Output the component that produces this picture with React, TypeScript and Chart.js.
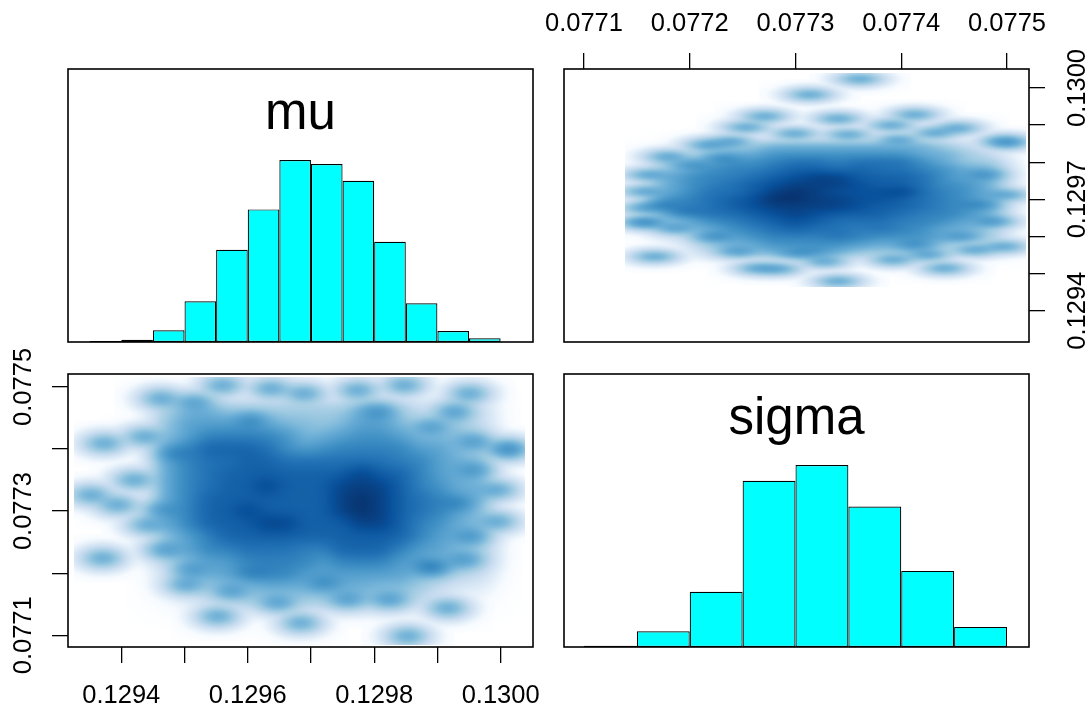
import React, { useEffect, useRef } from "react";
import { Chart, registerables } from "chart.js";

Chart.register(...registerables);

const W = 1091;
const H = 709;
const FONT = '"Liberation Sans", Arial, Helvetica, sans-serif';

// ---------------- data ----------------
const muRange = [0.1293157, 0.1300512];
const sigmaRange = [0.0770811, 0.0775208];

const muTicks = [0.1294, 0.1295, 0.1296, 0.1297, 0.1298, 0.1299, 0.13];
const sigmaTicks = [0.0771, 0.0772, 0.0773, 0.0774, 0.0775];
const muBottomLabels = [0.1294, 0.1296, 0.1298, 0.13];
const muRightLabels = [0.1294, 0.1297, 0.13];
const sigmaTopLabels = [0.0771, 0.0772, 0.0773, 0.0774, 0.0775];
const sigmaLeftLabels = [0.0771, 0.0773, 0.0775];

const muBinCenters = [
  0.129375, 0.129425, 0.129475, 0.129525, 0.129575, 0.129625, 0.129675,
  0.129725, 0.129775, 0.129825, 0.129875, 0.129925, 0.129975,
];
const muCounts = [3, 7, 35, 122, 276, 397, 545, 533, 483, 300, 116, 33, 11];

const sigmaBinCenters = [
  0.077125, 0.077175, 0.077225, 0.077275, 0.077325, 0.077375, 0.077425, 0.077475,
];
const sigmaCounts = [4, 47, 165, 496, 543, 419, 227, 60];

// top-right panel (x = sigma, y = mu): isolated samples
const trSigma = [
  0.0773607, 0.0773134, 0.0772708, 0.0773402, 0.0774127, 0.0772535, 0.0773906,
  0.0774537, 0.0774978, 0.0772992, 0.0773496, 0.0772393, 0.0772173, 0.0771794,
  0.0771605, 0.0771567, 0.0771567, 0.0771574, 0.0771857, 0.0771668, 0.0772236,
  0.0772645, 0.0772834, 0.0773402, 0.0773922, 0.0774411, 0.0774568, 0.0774694,
  0.0774978, 0.0774883, 0.0775, 0.0775, 0.0774316, 0.0773276, 0.0774253,
  0.0771731, 0.0771567, 0.0772015, 0.0772299, 0.0771952, 0.0772456, 0.0773024,
  0.0774127, 0.0774757, 0.0774789, 0.0773969,
];
const trMu = [
  0.1300243, 0.129982, 0.1299236, 0.1299173, 0.1299281, 0.1298939, 0.1298993,
  0.1298921, 0.1298579, 0.1298768, 0.1298741, 0.1298561, 0.1298471, 0.1298156,
  0.1297662, 0.1297212, 0.1296403, 0.1296358, 0.1296223, 0.1295459, 0.1295998,
  0.1295144, 0.1295126, 0.1294795, 0.1295369, 0.1295144, 0.1295998, 0.1295638,
  0.1295728, 0.1296403, 0.1298516, 0.1297122, 0.1298786, 0.1295324, 0.1295504,
  0.1296853, 0.1296763, 0.1297932, 0.1298112, 0.1296673, 0.1295594, 0.1295549,
  0.1295773, 0.1296853, 0.1297662, 0.1298606,
];
// top-right core density levels (0-9) on a grid
const trGridSigma = [
  0.07718, 0.0772, 0.07722, 0.07724, 0.07726, 0.07728, 0.0773, 0.07732,
  0.07734, 0.07736, 0.07738, 0.0774, 0.07742, 0.07744, 0.07746, 0.07748,
];
const trGridMu = [
  0.12984, 0.12982, 0.1298, 0.12978, 0.12976, 0.12974, 0.12972, 0.1297,
  0.12968, 0.12966, 0.12964, 0.12962, 0.1296, 0.12958, 0.12956,
];
const trLevels = [
  [0, 2, 4, 4, 4, 5, 5, 5, 5, 5, 5, 5, 5, 4, 3, 2],
  [2, 3, 4, 5, 5, 6, 6, 6, 6, 6, 6, 6, 5, 5, 4, 3],
  [4, 4, 5, 6, 6, 6.5, 7, 7, 6.5, 7, 7, 7, 6, 5, 4, 4],
  [4, 5, 6, 6.5, 6.5, 7, 7.5, 7.5, 7, 7.5, 7, 7, 6.5, 6, 5, 5],
  [5, 6, 6.5, 6.5, 7, 7.5, 8, 8.5, 8.5, 7.5, 7.5, 7.5, 7, 6, 5, 5],
  [5, 6, 6.5, 7, 7.5, 8, 8.5, 8.5, 8.5, 8, 7.5, 7.5, 7, 6, 6, 5],
  [5, 6, 7, 7, 7.5, 8.5, 9, 8.5, 8, 8, 8, 8.5, 7, 6.5, 6, 5],
  [6, 6.5, 7, 7.5, 8, 9, 9, 8.5, 8.5, 8, 8, 7.5, 7, 6.5, 6, 5],
  [6, 6.5, 7, 7.5, 8, 8.5, 8.5, 8.5, 8.5, 8, 7.5, 7.5, 7, 6.5, 6, 5],
  [5, 6, 7, 7, 7.5, 8, 8.5, 8, 7.5, 7.5, 7.5, 7, 6.5, 6.5, 6, 5],
  [4, 5, 6, 6.5, 7, 7.5, 8, 7.5, 7, 7, 7, 6.5, 6.5, 6, 5, 5],
  [3, 4, 5, 6, 6.5, 7, 7.5, 7, 7, 6.5, 7, 6.5, 6, 5, 5, 4],
  [2, 3, 5, 5, 6, 6.5, 6.5, 6.5, 7, 6.5, 6, 6, 6, 5, 4, 4],
  [1, 2, 4, 5, 5, 6, 6, 6, 6, 5.5, 5, 5, 5, 4, 3, 3],
  [0, 1, 3, 4, 4, 5, 5, 6, 5, 4, 4, 4, 4, 3, 2, 2],
];

// bottom-left panel (x = mu, y = sigma): isolated samples
const blMu = [
  0.1293731, 0.129352, 0.1293942, 0.1293705, 0.1294417, 0.1295023, 0.1295735,
  0.1295524, 0.1296842, 0.1298529, 0.1299162, 0.1298898, 0.1299425, 0.1299953,
  0.1299953, 0.130012, 0.130012, 0.1299584, 0.1299505, 0.1299267, 0.1298476,
  0.1298055, 0.1297738, 0.1296895, 0.1296367, 0.1295603, 0.1295155, 0.1294627,
  0.1298239, 0.1299531, 0.1294206, 0.1294627, 0.129468, 0.1296473, 0.129758,
  0.1298925, 0.1294838, 0.1294364, 0.1296051, 0.1295102, 0.1296051, 0.1297211,
  0.129932, 0.1299584, 0.1298898,
];
const blSigma = [
  0.077409, 0.077326, 0.07731, 0.0772242, 0.0772778, 0.0771814, 0.0771707,
  0.0771305, 0.0771198, 0.0770985, 0.0771439, 0.0772108, 0.0772216, 0.0772831,
  0.077334, 0.0773983, 0.0774009, 0.0774117, 0.0774893, 0.0774599, 0.0775027,
  0.0774599, 0.0774947, 0.0774893, 0.0774973, 0.0775025, 0.0774759, 0.0774813,
  0.0771573, 0.077259, 0.0773501, 0.0773019, 0.0772376, 0.0771519, 0.0771573,
  0.0772082, 0.0773929, 0.0774197, 0.0774465, 0.0772055, 0.0772001, 0.0771841,
  0.0773126, 0.0773661, 0.0774357,
];
const blGridMu = [
  0.12948, 0.12951, 0.12954, 0.12957, 0.1296, 0.12963, 0.12966, 0.12969, 0.12972,
  0.12975, 0.12978, 0.12981, 0.12984, 0.12987, 0.1299, 0.12993, 0.12996,
];
const blGridSigma = [
  0.07746, 0.07744, 0.07742, 0.0774, 0.07738, 0.07736, 0.07734, 0.07732,
  0.0773, 0.07728, 0.07726, 0.07724, 0.07722, 0.0772, 0.07718, 0.07716,
];
const blLevels = [
  [4, 5, 5, 4, 4, 4, 4, 4, 4, 4, 5, 5, 4, 3, 3, 4, 3],
  [4.5, 5.5, 5.5, 5.5, 5.5, 5, 4.5, 4.5, 4, 4.5, 5.5, 5.5, 4.5, 3.5, 3.5, 4, 3],
  [4.5, 5.5, 6.5, 6.5, 6.5, 6.5, 6, 4.5, 5, 5.5, 6, 6, 5.5, 4.5, 4.5, 4.5, 4],
  [5.5, 6.5, 7.5, 7.5, 7.5, 7, 6, 5.5, 6, 6.5, 6.5, 6.5, 6.5, 5.5, 5.5, 4.5, 4],
  [5.5, 6.5, 7, 7, 7.5, 7.5, 7, 7, 7, 7, 7, 7, 6.5, 6.5, 5.5, 5, 4.5],
  [5.5, 6.5, 7, 7.5, 7.5, 7.5, 7.5, 7.5, 7.5, 7.5, 8.5, 7.5, 7.5, 6.5, 5.5, 5, 4.5],
  [5.5, 6.5, 7, 7.5, 7.5, 8.5, 7.5, 7.5, 7.5, 8.5, 8.5, 8.5, 7.5, 6.5, 6, 5, 5],
  [5.5, 6.5, 7.5, 7.5, 7.5, 7.5, 7.5, 7.5, 7.5, 8.5, 9, 8.5, 7.5, 7, 6.5, 5.5, 5],
  [5.5, 6.5, 7.5, 7.5, 8.5, 7.5, 7.5, 7.5, 7.5, 8.5, 9, 8.5, 7.5, 7, 6.5, 5.5, 4.5],
  [5.5, 6.5, 7.5, 7.5, 7.5, 8.5, 8.5, 7.5, 7.5, 7.5, 8.5, 8.5, 7.5, 6.5, 6, 5, 4.5],
  [4.5, 5.5, 6.5, 7.5, 7.5, 7.5, 7.5, 7.5, 7.5, 7.5, 7.5, 7.5, 7.5, 6.5, 5.5, 5, 4.5],
  [4.5, 5.5, 6.5, 6.5, 7, 7, 7, 6.5, 6.5, 7.5, 7.5, 7.5, 6.5, 5.5, 5.5, 4.5, 4],
  [3.5, 4.5, 5.5, 5.5, 6.5, 6.5, 6.5, 6.5, 5.5, 6.5, 6.5, 6.5, 5.5, 5.5, 4.5, 4.5, 4],
  [2.5, 4, 5, 5.5, 5.5, 6.5, 6.5, 5.5, 5.5, 5.5, 5.5, 5.5, 5.5, 4.5, 4, 3.5, 3],
  [2, 3, 4, 4, 4.5, 5, 5, 5, 5, 5, 5, 4.5, 4.5, 4, 3, 2, 2],
  [1, 2, 3, 3, 4, 4, 4, 4, 4, 4, 4, 4, 4, 3, 2, 1, 1],
];

// ---------------- colour ramp (white + blues9) ----------------
const BLUES = [
  "#FFFFFF", "#F7FBFF", "#DEEBF7", "#C6DBEF", "#9ECAE1",
  "#6BAED6", "#4292C6", "#2171B5", "#08519C", "#08306B",
];
const RAMP = BLUES.map((h) => [
  parseInt(h.slice(1, 3), 16),
  parseInt(h.slice(3, 5), 16),
  parseInt(h.slice(5, 7), 16),
]);
function rampColor(v: number) {
  const t = Math.max(0, Math.min(1, v)) * (RAMP.length - 1);
  const i = Math.min(RAMP.length - 2, Math.floor(t));
  const f = t - i;
  const a = RAMP[i];
  const b = RAMP[i + 1];
  return [a[0] + (b[0] - a[0]) * f, a[1] + (b[1] - a[1]) * f, a[2] + (b[2] - a[2]) * f];
}

// ---------------- plugins ----------------
type DensityCfg = {
  gridX: number[];
  gridY: number[];
  levels: number[][];
  pointSd: [number, number];
  dref: number;
};

function makeDensityPlugin(cfg: DensityCfg) {
  return {
    id: "density",
    beforeDatasetsDraw(chart: any) {
      const ctx = chart.ctx;
      const ca = chart.chartArea;
      const xs = chart.scales.x;
      const ys = chart.scales.y;
      const L = Math.round(ca.left);
      const T = Math.round(ca.top);
      const w = Math.round(ca.right) - L;
      const h = Math.round(ca.bottom) - T;
      const D = new Float32Array(w * h);
      const add = (px: number, py: number, amp: number, sx: number, sy: number) => {
        const cx = px - L;
        const cy = py - T;
        const i0 = Math.max(0, Math.floor(cx - 4 * sx));
        const i1 = Math.min(w - 1, Math.ceil(cx + 4 * sx));
        const j0 = Math.max(0, Math.floor(cy - 4 * sy));
        const j1 = Math.min(h - 1, Math.ceil(cy + 4 * sy));
        for (let j = j0; j <= j1; j++) {
          const dy = (j + 0.5 - cy) / sy;
          const ey = amp * Math.exp(-0.5 * dy * dy);
          for (let i = i0; i <= i1; i++) {
            const dx = (i + 0.5 - cx) / sx;
            D[j * w + i] += ey * Math.exp(-0.5 * dx * dx);
          }
        }
      };
      const [psx, psy] = cfg.pointSd;
      let minX = Infinity, maxX = -Infinity, minY = Infinity, maxY = -Infinity;
      const pts = chart.data.datasets[0].data as { x: number; y: number }[];
      for (const p of pts) {
        const px = xs.getPixelForValue(p.x);
        const py = ys.getPixelForValue(p.y);
        add(px, py, 1, psx, psy);
        minX = Math.min(minX, px); maxX = Math.max(maxX, px);
        minY = Math.min(minY, py); maxY = Math.max(maxY, py);
      }
      const gx = cfg.gridX.map((v) => xs.getPixelForValue(v));
      const gy = cfg.gridY.map((v) => ys.getPixelForValue(v));
      const csx = 0.6 * Math.abs(gx[1] - gx[0]);
      const csy = 0.6 * Math.abs(gy[1] - gy[0]);
      const gain = 2 * Math.PI * 0.36;
      for (let r = 0; r < gy.length; r++) {
        for (let c = 0; c < gx.length; c++) {
          const lev = cfg.levels[r][c];
          if (!lev) continue;
          const amp = (cfg.dref * Math.pow(lev / 9, 4)) / gain;
          add(gx[c], gy[r], amp, csx, csy);
        }
      }
      const bx0 = minX - 1.5 * psx - L, bx1 = maxX + 1.5 * psx - L;
      const by0 = minY - 1.5 * psy - T, by1 = maxY + 1.5 * psy - T;
      const img = ctx.createImageData(w, h);
      const data = img.data;
      for (let j = 0; j < h; j++) {
        const yy = j + 0.5;
        if (yy < by0 || yy > by1) continue;
        for (let i = 0; i < w; i++) {
          const xx = i + 0.5;
          if (xx < bx0 || xx > bx1) continue;
          const v = Math.pow(D[j * w + i] / cfg.dref, 0.25);
          const col = rampColor(v);
          const k = (j * w + i) * 4;
          data[k] = col[0];
          data[k + 1] = col[1];
          data[k + 2] = col[2];
          data[k + 3] = 255;
        }
      }
      const off = document.createElement("canvas");
      off.width = w;
      off.height = h;
      (off.getContext("2d") as CanvasRenderingContext2D).putImageData(img, 0, 0);
      ctx.drawImage(off, L, T);
    },
  };
}

type LabelSpec = { axis: string; side: string; values: number[]; at: number };
function makeTextPlugin(labels: LabelSpec[], title?: string) {
  return {
    id: "axisText",
    afterDraw(chart: any) {
      const ctx = chart.ctx as CanvasRenderingContext2D;
      const ca = chart.chartArea;
      ctx.save();
      ctx.strokeStyle = "#000";
      ctx.lineWidth = 1.6;
      ctx.strokeRect(ca.left, ca.top, ca.right - ca.left, ca.bottom - ca.top);
      ctx.fillStyle = "#000";
      ctx.font = `25.5px ${FONT}`;
      ctx.textBaseline = "alphabetic";
      for (const spec of labels) {
        const scale = chart.scales[spec.axis];
        for (const v of spec.values) {
          const p = scale.getPixelForValue(v);
          const t = v.toFixed(4);
          if (spec.side === "top" || spec.side === "bottom") {
            ctx.textAlign = "center";
            ctx.fillText(t, p, spec.at);
          } else {
            ctx.save();
            ctx.translate(spec.at, p);
            ctx.rotate(-Math.PI / 2);
            ctx.textAlign = "center";
            ctx.fillText(t, 0, 0);
            ctx.restore();
          }
        }
      }
      if (title) {
        ctx.font = `51px ${FONT}`;
        ctx.textAlign = "center";
        ctx.fillText(title, (ca.left + ca.right) / 2, ca.top + 60);
      }
      ctx.restore();
    },
  };
}

// ---------------- scale helpers ----------------
const hiddenScale = (min: number, max: number) => ({
  type: "linear",
  display: false,
  min,
  max,
  offset: false,
  grid: { offset: false },
});
const shownScale = (min: number, max: number, position: string, ticks: number[], horizontal: boolean) => ({
  type: "linear",
  display: true,
  position,
  min,
  max,
  bounds: "data",
  offset: false,
  grid: {
    display: true,
    offset: false,
    drawOnChartArea: false,
    drawTicks: true,
    tickLength: 16,
    tickWidth: 1.3,
    tickColor: "#000",
    color: "#000",
    lineWidth: 1.3,
  },
  border: { display: false },
  ticks: { display: false },
  afterBuildTicks: (s: any) => {
    s.ticks = ticks.map((v) => ({ value: v }));
  },
  afterFit: (s: any) => {
    if (horizontal) s.height = 0;
    else s.width = 0;
  },
});

const baseOptions = (padding: any) => ({
  responsive: false,
  animation: false,
  events: [],
  layout: { padding, autoPadding: false },
  plugins: { legend: { display: false }, tooltip: { enabled: false } },
});

const PAD_TL = { left: 68, top: 69, right: W - 533, bottom: H - 342 };
const PAD_TR = { left: 564, top: 69, right: W - 1029, bottom: H - 342 };
const PAD_BL = { left: 68, top: 374, right: W - 533, bottom: H - 647 };
const PAD_BR = { left: 564, top: 374, right: W - 1029, bottom: H - 647 };

function histConfig(centers: number[], counts: number[], range: number[], padding: any, title: string) {
  const mx = Math.max(...counts);
  return {
    type: "bar",
    data: {
      datasets: [
        {
          data: centers.map((c, i) => ({ x: c, y: counts[i] / mx })),
          backgroundColor: "#00FFFF",
          borderColor: "#000000",
          borderWidth: 1.2,
          borderSkipped: false,
          inflateAmount: 0,
          barPercentage: 1,
          categoryPercentage: 1,
        },
      ],
    },
    options: {
      ...baseOptions(padding),
      scales: { x: hiddenScale(range[0], range[1]), y: hiddenScale(0, 1.5) },
    },
    plugins: [makeTextPlugin([], title)],
  };
}

function configs(): any[] {
  const tl = histConfig(muBinCenters, muCounts, muRange, PAD_TL, "mu");
  const br = histConfig(sigmaBinCenters, sigmaCounts, sigmaRange, PAD_BR, "sigma");
  const tr = {
    type: "scatter",
    data: {
      datasets: [
        { data: trSigma.map((s, i) => ({ x: s, y: trMu[i] })), pointRadius: 0, pointHoverRadius: 0 },
      ],
    },
    options: {
      ...baseOptions(PAD_TR),
      scales: {
        x: shownScale(sigmaRange[0], sigmaRange[1], "top", sigmaTicks, true),
        y: shownScale(muRange[0], muRange[1], "right", muTicks, false),
      },
    },
    plugins: [
      makeDensityPlugin({ gridX: trGridSigma, gridY: trGridMu, levels: trLevels, pointSd: [12.5, 3.8], dref: 12 }),
      makeTextPlugin([
        { axis: "x", side: "top", values: sigmaTopLabels, at: 31 },
        { axis: "y", side: "right", values: muRightLabels, at: 1084.5 },
      ]),
    ],
  };
  const bl = {
    type: "scatter",
    data: {
      datasets: [
        { data: blMu.map((m, i) => ({ x: m, y: blSigma[i] })), pointRadius: 0, pointHoverRadius: 0 },
      ],
    },
    options: {
      ...baseOptions(PAD_BL),
      scales: {
        x: shownScale(muRange[0], muRange[1], "bottom", muTicks, true),
        y: shownScale(sigmaRange[0], sigmaRange[1], "left", sigmaTicks, false),
      },
    },
    plugins: [
      makeDensityPlugin({ gridX: blGridMu, gridY: blGridSigma, levels: blLevels, pointSd: [11.5, 5.8], dref: 12 }),
      makeTextPlugin([
        { axis: "x", side: "bottom", values: muBottomLabels, at: 703 },
        { axis: "y", side: "left", values: sigmaLeftLabels, at: 31 },
      ]),
    ],
  };
  return [tl, tr, bl, br];
}

function PanelCanvas({ index }: { index: number }) {
  const ref = useRef<HTMLCanvasElement | null>(null);
  useEffect(() => {
    if (!ref.current) return;
    const cfg = configs()[index];
    const chart = new Chart(ref.current, cfg);
    return () => chart.destroy();
  }, [index]);
  return (
    <canvas
      ref={ref}
      width={W}
      height={H}
      style={{ position: "absolute", left: 0, top: 0, width: W, height: H }}
    />
  );
}

export default function App() {
  return (
    <div style={{ position: "fixed", left: 0, top: 0, width: W, height: H, background: "#ffffff" }}>
      {[0, 1, 2, 3].map((i) => (
        <PanelCanvas key={i} index={i} />
      ))}
    </div>
  );
}
